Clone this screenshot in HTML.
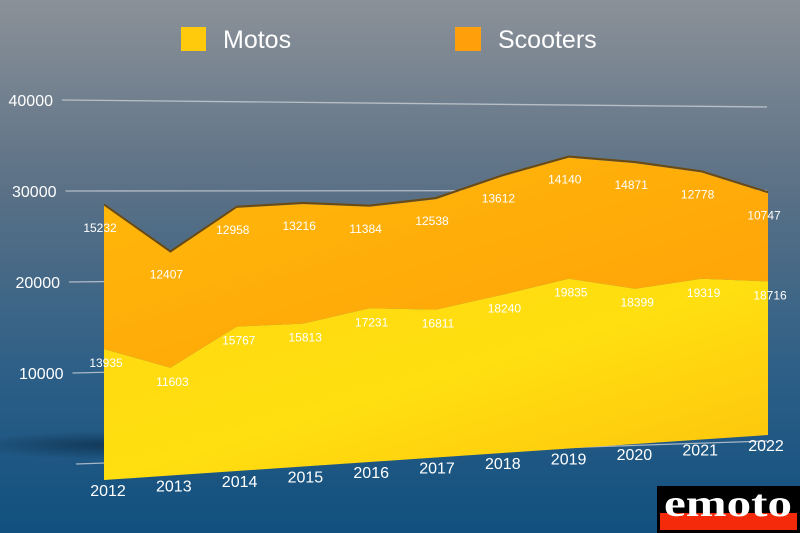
<!DOCTYPE html>
<html><head><meta charset="utf-8"><style>
body{margin:0;width:800px;height:533px;overflow:hidden;font-family:"Liberation Sans",sans-serif}
svg{display:block}
</style></head><body>
<svg id="chart" width="800" height="533" viewBox="0 0 800 533" xmlns="http://www.w3.org/2000/svg">
<defs>
<linearGradient id="bg" x1="0" y1="0" x2="0" y2="1">
<stop offset="0" stop-color="#8b9198"/><stop offset="0.35" stop-color="#5b7186"/><stop offset="0.7" stop-color="#2d5f87"/><stop offset="1" stop-color="#11507f"/>
</linearGradient>
<linearGradient id="gm" x1="0" y1="0" x2="1" y2="1"><stop offset="0" stop-color="#ffd80f"/><stop offset="0.5" stop-color="#ffdf10"/><stop offset="1" stop-color="#fec20c"/></linearGradient>
<linearGradient id="gs" x1="0" y1="0" x2="1" y2="1"><stop offset="0" stop-color="#ffb90a"/><stop offset="1" stop-color="#ffa008"/></linearGradient>
<radialGradient id="sh" cx="0.5" cy="0.5" r="0.5"><stop offset="0" stop-color="#0c2a45" stop-opacity="0.7"/><stop offset="1" stop-color="#0c2a45" stop-opacity="0"/></radialGradient>
</defs>
<rect width="800" height="533" fill="url(#bg)"/>
<ellipse cx="110" cy="445" rx="140" ry="14" fill="url(#sh)"/>
<g id="grid"></g>
<g id="areas"></g>
<g id="labels"></g>
<g>
<rect x="181" y="27" width="25" height="24" fill="#ffc90c"/>
<text x="223" y="48" font-size="25" fill="#fff">Motos</text>
<rect x="455" y="27" width="26" height="24" fill="#ffa00a"/>
<text x="498" y="48" font-size="25" fill="#fff">Scooters</text>
</g>
<g>
<rect x="657" y="486" width="143" height="47" fill="#000"/>
<rect x="660" y="513" width="137" height="17" fill="#f52a0a"/>
<text x="728" y="516" text-anchor="middle" font-family="Liberation Serif,serif" font-weight="bold" font-size="38" fill="#fff" textLength="128" lengthAdjust="spacingAndGlyphs">emoto</text>
</g>
</svg>
<script>
const years=['2012','2013','2014','2015','2016','2017','2018','2019','2020','2021','2022'];
const motos=[13935,11603,15767,15813,17231,16811,18240,19835,18399,19319,18716];
const scooters=[15232,12407,12958,13216,11384,12538,13612,14140,14871,12778,10747];
const yTicks=[0,10000,20000,30000,40000];
const NS='http://www.w3.org/2000/svg';
function xAt(i){return 104+i*66.4;}
function base(i){return 480-i*4.5;}
function scl(i){return 0.0094-i*0.00012;}
function yAt(i,v){return base(i)-v*scl(i);}
function mk(tag,attrs,parent){const e=document.createElementNS(NS,tag);for(const k in attrs)e.setAttribute(k,attrs[k]);parent.appendChild(e);return e;}
const grid=document.getElementById('grid'),areas=document.getElementById('areas'),labels=document.getElementById('labels');
function gy(v,side){return side?(441-v*0.00835):(464-v*0.0091);}
yTicks.forEach((t,k)=>{
  const yl=gy(t,0), yr=gy(t,1);
  const x1=76-k*3.5;
  const ln=mk('line',{x1:x1,y1:yl,x2:767,y2:yr,stroke:'#c9ced4','stroke-width':1.3,'stroke-opacity':0.8},grid);
  
  
  if(t>0){
    const tx=mk('text',{x:x1-9,y:yl+6,'text-anchor':'end','font-size':16,fill:'#fff'},grid);
    tx.textContent=String(t);
    
    
  }
});
const n=years.length;
const topPts=[],midPts=[],botPts=[];
for(let i=0;i<n;i++){topPts.push([xAt(i),yAt(i,motos[i]+scooters[i])]);midPts.push([xAt(i),yAt(i,motos[i])]);botPts.push([xAt(i),base(i)]);}
const pts=a=>a.map(p=>p[0].toFixed(1)+','+p[1].toFixed(1)).join(' ');
const edge=mk('polyline',{points:pts(topPts.map(p=>[p[0],p[1]-1.2])),fill:'none',stroke:'#6b4a12','stroke-width':2},areas);


const sa=mk('polygon',{points:pts(topPts)+' '+pts(midPts.slice().reverse()),fill:'url(#gs)'},areas);


const ma=mk('polygon',{points:pts(midPts)+' '+pts(botPts.slice().reverse()),fill:'url(#gm)'},areas);


for(let i=0;i<n;i++){
  const t1=mk('text',{x:xAt(i)-4,y:topPts[i][1]+26,'text-anchor':'middle','font-size':12,fill:'#fff'},labels);
  t1.textContent=String(scooters[i]);
  
  
  const t2=mk('text',{x:xAt(i)+2,y:midPts[i][1]+18,'text-anchor':'middle','font-size':12,fill:'#fff'},labels);
  t2.textContent=String(motos[i]);
  
  
  const t3=mk('text',{x:xAt(i)+4-i*0.6,y:base(i)+16,'text-anchor':'middle','font-size':16,fill:'#fff'},labels);
  t3.textContent=years[i];
  
  
}
</script>
</body></html>
